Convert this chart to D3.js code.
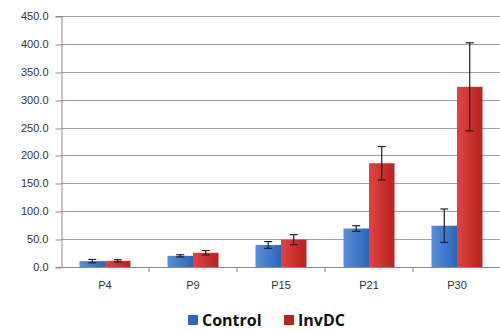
<!DOCTYPE html>
<html>
<head>
<meta charset="utf-8">
<script src="https://cdn.jsdelivr.net/npm/d3@7"></script>
<style>
  body { margin: 0; background: #fff; }
  svg { font-family: "Open Sans", "Liberation Sans", sans-serif; }
</style>
</head>
<body>
<div id="chart"></div>
<script>
// Datos
const categorias = ['P4', 'P9', 'P15', 'P21', 'P30'];
const series = ['Control', 'InvDC'];
const control = [10.5, 20, 39.5, 69, 74];
const controlErr = [3, 2, 6, 5, 30];
const invdc = [11, 25.5, 49, 186, 323];
const invdcErr = [2, 4, 9, 30, 79];
const ticksY = [0, 50, 100, 150, 200, 250, 300, 350, 400, 450];

const width = 500;
const height = 330;
const margin = { top: 16, right: 0, bottom: 63, left: 61 };

const svg = d3.select('#chart').append('svg')
  .attr('width', width)
  .attr('height', height);

// Gradientes para las barras
const defs = svg.append('defs');
const colores = { Control: ['#5590da', '#2f67b8'], InvDC: ['#e04440', '#b8221f'] };
series.forEach(s => {
  const g = defs.append('linearGradient').attr('id', 'grad-' + s)
    .attr('x1', '0%').attr('x2', '100%').attr('y1', '0%').attr('y2', '0%');
  g.append('stop').attr('offset', '0%').attr('stop-color', colores[s][0]);
  g.append('stop').attr('offset', '100%').attr('stop-color', colores[s][1]);
});

const x = d3.scaleBand()
  .domain(categorias)
  .range([margin.left, width - margin.right + 1]);

const xSub = d3.scaleBand()
  .domain(series)
  .range([0, 51]);

const y = d3.scaleLinear()
  .domain([0, 450])
  .range([height - margin.bottom, margin.top]);

// Lineas de cuadricula
svg.append('g')
  .selectAll('line')
  .data(ticksY.slice(1))
  .enter()
  .append('line')
  .attr('x1', margin.left)
  .attr('x2', width)
  .attr('y1', d => Math.round(y(d)) + 0.5)
  .attr('y2', d => Math.round(y(d)) + 0.5)
  .attr('stroke', '#a0a0a0')
  .attr('stroke-width', 1);

// Eje Y
const ejeY = svg.append('g')
  .attr('transform', `translate(${margin.left + 0.5},0)`)
  .call(d3.axisLeft(y).tickValues(ticksY).tickSize(6).tickFormat(d3.format('.1f')));
ejeY.select('.domain').attr('stroke', '#8a8a8a');
ejeY.selectAll('.tick line').attr('stroke', '#8a8a8a')
  .attr('transform', d => `translate(0,${Math.round(y(d)) + 0.5 - y(d)})`);
ejeY.selectAll('.tick text')
  .attr('fill', '#333')
  .style('font-size', '11px')
  .attr('x', -13);

// Barras
const datos = categorias.map((c, i) => ({
  cat: c,
  valores: [
    { serie: 'Control', v: control[i], e: controlErr[i] },
    { serie: 'InvDC', v: invdc[i], e: invdcErr[i] }
  ]
}));

const grupos = svg.append('g')
  .selectAll('g')
  .data(datos)
  .enter()
  .append('g')
  .attr('transform', d => `translate(${x(d.cat) + (x.bandwidth() - 51) / 2},0)`);

grupos.selectAll('rect')
  .data(d => d.valores)
  .enter()
  .append('rect')
  .attr('x', d => xSub(d.serie))
  .attr('width', xSub.bandwidth())
  .attr('y', d => y(d.v))
  .attr('height', d => y(0) - y(d.v))
  .attr('fill', d => `url(#grad-${d.serie})`);

// Barras de error
const err = grupos.selectAll('g.err')
  .data(d => d.valores)
  .enter()
  .append('g')
  .attr('class', 'err')
  .attr('stroke', '#222')
  .attr('stroke-width', 1.2);

err.append('line')
  .attr('x1', d => xSub(d.serie) + xSub.bandwidth() / 2)
  .attr('x2', d => xSub(d.serie) + xSub.bandwidth() / 2)
  .attr('y1', d => y(d.v + d.e))
  .attr('y2', d => y(Math.max(0, d.v - d.e)));

[1, -1].forEach(signo => {
  err.append('line')
    .attr('x1', d => xSub(d.serie) + xSub.bandwidth() / 2 - 4)
    .attr('x2', d => xSub(d.serie) + xSub.bandwidth() / 2 + 4)
    .attr('y1', d => y(Math.max(0, d.v + signo * d.e)))
    .attr('y2', d => y(Math.max(0, d.v + signo * d.e)));
});

// Eje X
const ejeX = svg.append('g')
  .attr('transform', `translate(0,${Math.round(y(0)) + 0.5})`)
  .call(d3.axisBottom(x).tickSize(0).tickPadding(14));
ejeX.select('.domain').attr('stroke', '#8a8a8a').attr('d', `M${margin.left},0H${width}`);
ejeX.selectAll('.tick text').attr('fill', '#333').style('font-size', '11px');

// Marcas entre categorias
svg.append('g')
  .selectAll('line')
  .data(categorias.slice(1))
  .enter()
  .append('line')
  .attr('x1', d => x(d))
  .attr('x2', d => x(d))
  .attr('y1', y(0))
  .attr('y2', y(0) + 5)
  .attr('stroke', '#8a8a8a');

// Leyenda
const leyenda = svg.append('g').attr('transform', 'translate(188,315)');
const posLeyenda = [0, 96];
series.forEach((s, i) => {
  const item = leyenda.append('g').attr('transform', `translate(${posLeyenda[i]},0)`);
  item.append('rect')
    .attr('width', 10).attr('height', 10)
    .attr('fill', colores[s][1]);
  item.append('text')
    .attr('x', 14).attr('y', 11)
    .style('font-size', '16px')
    .style('font-weight', 'bold')
    .attr('fill', '#111')
    .text(s);
});
</script>
</body>
</html>
